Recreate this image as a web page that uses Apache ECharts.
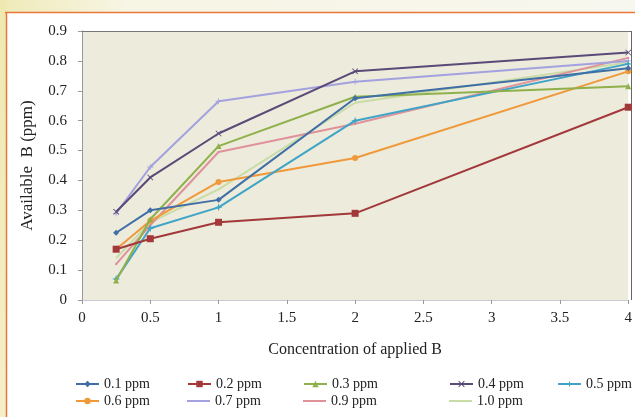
<!DOCTYPE html>
<html>
<head>
<meta charset="utf-8">
<script src="https://cdn.jsdelivr.net/npm/echarts@6/dist/echarts.min.js"></script>
<style>
  html, body { margin: 0; padding: 0; background: #ffffff; }
  #chart { width: 635px; height: 417px; }
</style>
</head>
<body>
<div id="chart"></div>
<script>
// Applied boron concentrations (x values)
const appliedB = [0.25, 0.5, 1, 2, 4];

// Available B (ppm) for each treatment
const ppm01 = [0.225, 0.30, 0.335, 0.675, 0.775];
const ppm02 = [0.17, 0.205, 0.26, 0.29, 0.645];
const ppm03 = [0.065, 0.27, 0.515, 0.68, 0.715];
const ppm04 = [0.295, 0.41, 0.557, 0.765, 0.828];
const ppm05 = [0.07, 0.24, 0.31, 0.60, 0.79];
const ppm06 = [0.17, 0.265, 0.395, 0.475, 0.765];
const ppm07 = [0.29, 0.445, 0.665, 0.73, 0.80];
const ppm09 = [0.12, 0.25, 0.495, 0.59, 0.81];
const ppm10 = [0.14, 0.26, 0.37, 0.66, 0.795];

const seriesNames = ['0.1 ppm', '0.2 ppm', '0.3 ppm', '0.4 ppm', '0.5 ppm',
                     '0.6 ppm', '0.7 ppm', '0.9 ppm', '1.0 ppm'];
const seriesValues = [ppm01, ppm02, ppm03, ppm04, ppm05, ppm06, ppm07, ppm09, ppm10];

const yTicks = [0, 0.1, 0.2, 0.3, 0.4, 0.5, 0.6, 0.7, 0.8, 0.9];
const xTicks = [0, 0.5, 1, 1.5, 2, 2.5, 3, 3.5, 4];

const colors = ['#3f6fa6', '#a3383a', '#8fb04a', '#5a4a78', '#3fa4c6',
                '#f0993a', '#a3a2df', '#e0929a', '#c9dca6'];
// thin "x" and "+" marks drawn as filled outlines
const crossPath = 'path://M0,1L1,0L5,4L9,0L10,1L6,5L10,9L9,10L5,6L1,10L0,9L4,5Z';
const plusPath = 'path://M4.3,0H5.7V4.3H10V5.7H5.7V10H4.3V5.7H0V4.3H4.3Z';
const starPath = 'path://M5,0L6.2,3.8L10,5L6.2,6.2L5,10L3.8,6.2L0,5L3.8,3.8Z';
const symbols = ['diamond', 'rect', 'triangle', crossPath, starPath,
                 'circle', plusPath, 'rect', 'none'];
const symbolSizes = [6, 7, 6, 6, 8, 6, 6, 2, 2];
const plainLegend = [false, false, false, false, false, false, true, true, true];

const font = '"Liberation Serif", "Times New Roman", serif';

// Legend positions for the two rows
const legendSpots = [
  [70, 372], [182, 372], [298, 372], [444, 372], [552, 372],
  [70, 389], [182, 389], [298, 389], [444, 389]
];

const chart = echarts.init(document.getElementById('chart'), null, { renderer: 'canvas' });

const series = seriesNames.map((name, i) => ({
  name: name,
  type: 'line',
  data: appliedB.map((x, j) => [x, seriesValues[i][j]]),
  symbol: symbols[i],
  symbolSize: symbolSizes[i],
  showSymbol: symbols[i] !== 'none',
  lineStyle: { width: 2, color: colors[i] },
  itemStyle: { color: colors[i] },
  z: 10 - i
}));

const legends = seriesNames.map((name, i) => {
  const lg = {
    left: legendSpots[i][0],
    top: legendSpots[i][1],
    data: [name],
    itemWidth: 23,
    itemHeight: 8,
    itemGap: 4,
    textStyle: { fontFamily: font, fontSize: 14, color: '#222' }
  };
  if (plainLegend[i]) {
    lg.icon = 'rect';
    lg.itemHeight = 2;
  }
  return lg;
});

chart.setOption({
  animation: false,
  backgroundColor: 'transparent',
  color: colors,
  graphic: [
    // outer page strip and orange frame
    { type: 'rect', shape: { x: 0, y: 0, width: 635, height: 12 }, style: {
        fill: new echarts.graphic.LinearGradient(0, 0, 1, 0, [
          { offset: 0, color: '#efeab8' }, { offset: 0.2, color: '#f7f5e4' }, { offset: 1, color: '#f8f7ef' }]) }, z: -10 },
    { type: 'rect', shape: { x: 0, y: 0, width: 6, height: 417 }, style: {
        fill: new echarts.graphic.LinearGradient(0, 0, 0, 1, [
          { offset: 0, color: '#efe9b0' }, { offset: 1, color: '#f4efc8' }]) }, z: -10 },
    { type: 'line', shape: { x1: 5, y1: 12.5, x2: 635, y2: 12.5 }, style: { stroke: '#e8783a', lineWidth: 1.5 }, z: -5 },
    { type: 'line', shape: { x1: 6.5, y1: 12, x2: 6.5, y2: 417 }, style: { stroke: '#e8783a', lineWidth: 1.5 }, z: -5 },
    // plot frame top and right edges
    { type: 'line', shape: { x1: 82, y1: 31.5, x2: 631.5, y2: 31.5 }, style: { stroke: '#777', lineWidth: 1 }, z: 5 },
    { type: 'line', shape: { x1: 631.5, y1: 31, x2: 631.5, y2: 300 }, style: { stroke: '#666', lineWidth: 1 }, z: 5 }
  ],
  grid: {
    left: 82, right: 4, top: 31, bottom: 117,
    show: true, backgroundColor: '#ecebdc', borderWidth: 0
  },
  legend: legends,
  xAxis: {
    type: 'value',
    min: 0, max: 4, interval: 0.5,
    name: 'Concentration of applied B',
    nameLocation: 'middle',
    nameGap: 42,
    nameTextStyle: { fontFamily: font, fontSize: 16, color: '#222' },
    axisLine: { show: true, lineStyle: { color: '#c8ccd8', width: 1 } },
    axisTick: { show: true, length: 4, lineStyle: { color: '#999' } },
    axisLabel: { fontFamily: font, fontSize: 15, color: '#222', margin: 11,
      formatter: v => xTicks.includes(v) ? String(v) : '' },
    splitLine: { show: false }
  },
  yAxis: {
    type: 'value',
    min: 0, max: 0.9, interval: 0.1,
    name: 'Available  B (ppm)',
    nameLocation: 'middle',
    nameGap: 46,
    nameTextStyle: { fontFamily: font, fontSize: 17, color: '#222' },
    axisLine: { show: true, lineStyle: { color: '#999', width: 1 } },
    axisTick: { show: true, length: 4, lineStyle: { color: '#999' } },
    axisLabel: { fontFamily: font, fontSize: 15, color: '#222', margin: 15,
      formatter: v => {
        const t = yTicks.find(k => Math.abs(k - v) < 1e-9);
        return t === undefined ? '' : String(t);
      } },
    splitLine: { show: false }
  },
  series: series
});
</script>
</body>
</html>
